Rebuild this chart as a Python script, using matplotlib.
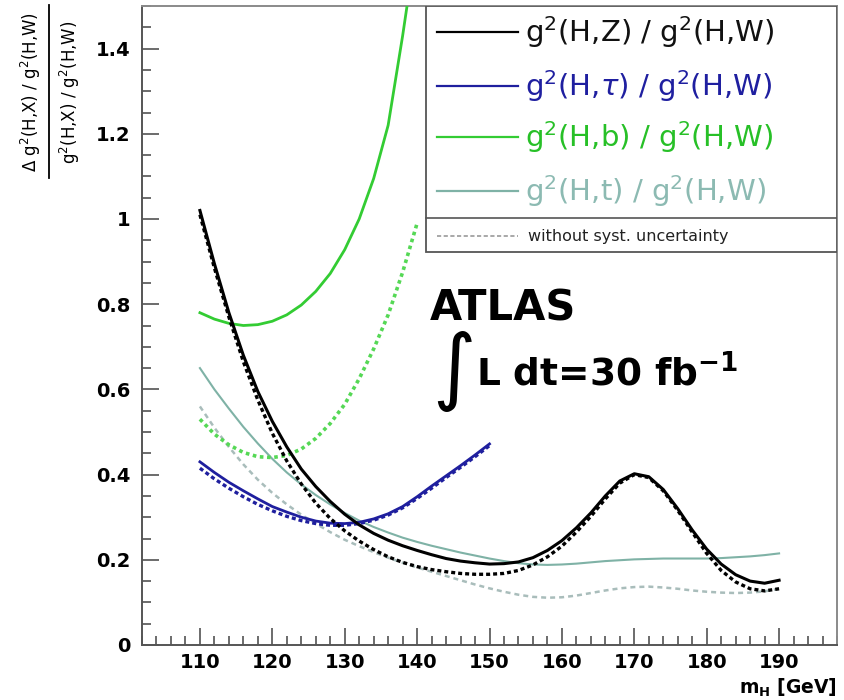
import matplotlib
matplotlib.use('Agg')
import matplotlib.pyplot as plt
from matplotlib.ticker import MultipleLocator, FuncFormatter
from matplotlib.patches import Rectangle
from matplotlib.lines import Line2D

plt.rcParams['font.family'] = ['DejaVu Sans']
plt.rcParams['mathtext.fontset'] = 'dejavusans'

# ---------------- data ----------------
mh_full = [110, 112, 114, 116, 118, 120, 122, 124, 126, 128, 130, 132, 134, 136, 138, 140,
           142, 144, 146, 148, 150, 152, 154, 156, 158, 160, 162, 164, 166, 168, 170,
           172, 174, 176, 178, 180, 182, 184, 186, 188, 190]
mh_150 = [110, 112, 114, 116, 118, 120, 122, 124, 126, 128, 130, 132, 134, 136, 138, 140,
          142, 144, 146, 148, 150]
mh_140 = [110, 112, 114, 116, 118, 120, 122, 124, 126, 128, 130, 132, 134, 136, 138, 140]

hz_syst = [1.02, 0.895, 0.78, 0.68, 0.595, 0.525, 0.465, 0.413, 0.372, 0.337, 0.307, 0.282,
           0.262, 0.246, 0.233, 0.222, 0.212, 0.203, 0.197, 0.193, 0.19, 0.191, 0.195, 0.205,
           0.222, 0.245, 0.275, 0.31, 0.35, 0.385, 0.402, 0.395, 0.365, 0.32, 0.27, 0.225,
           0.19, 0.165, 0.15, 0.145, 0.152]
hz_stat = [1.01, 0.885, 0.77, 0.665, 0.575, 0.497, 0.432, 0.378, 0.333, 0.297, 0.268, 0.244,
           0.224, 0.207, 0.194, 0.184, 0.177, 0.172, 0.168, 0.166, 0.166, 0.168, 0.175, 0.188,
           0.207, 0.232, 0.265, 0.302, 0.343, 0.38, 0.40, 0.393, 0.362, 0.316, 0.265, 0.215,
           0.175, 0.148, 0.132, 0.127, 0.132]

htau_syst = [0.43, 0.405, 0.382, 0.362, 0.343, 0.325, 0.312, 0.300, 0.291, 0.286, 0.285,
             0.288, 0.296, 0.308, 0.325, 0.348, 0.373, 0.397, 0.421, 0.446, 0.472]
htau_stat = [0.415, 0.39, 0.368, 0.348, 0.330, 0.315, 0.302, 0.292, 0.285, 0.281, 0.281,
             0.285, 0.293, 0.305, 0.322, 0.344, 0.368, 0.393, 0.417, 0.442, 0.468]

hb_syst = [0.78, 0.765, 0.755, 0.75, 0.752, 0.76, 0.775, 0.798, 0.83, 0.872, 0.928, 1.0,
           1.095, 1.22, 1.43, 1.66]
hb_stat = [0.53, 0.495, 0.47, 0.452, 0.442, 0.44, 0.445, 0.46, 0.485, 0.52, 0.565, 0.625,
           0.695, 0.775, 0.875, 0.99]

ht_syst = [0.65, 0.6, 0.555, 0.512, 0.473, 0.437, 0.405, 0.377, 0.352, 0.33, 0.31, 0.292,
           0.277, 0.264, 0.252, 0.242, 0.233, 0.225, 0.217, 0.21, 0.203, 0.197, 0.192, 0.189,
           0.188, 0.189, 0.191, 0.194, 0.197, 0.199, 0.201, 0.202, 0.203, 0.203, 0.203, 0.203,
           0.204, 0.206, 0.208, 0.211, 0.215]
ht_stat = [0.56, 0.51, 0.465, 0.424, 0.388, 0.357, 0.33, 0.306, 0.285, 0.265, 0.247, 0.232,
           0.218, 0.205, 0.193, 0.182, 0.172, 0.162, 0.152, 0.142, 0.133, 0.125, 0.118, 0.113,
           0.111, 0.112, 0.116, 0.122, 0.128, 0.133, 0.136, 0.137, 0.135, 0.132, 0.128, 0.125,
           0.123, 0.122, 0.123, 0.126, 0.132]

legend_labels = [r'g$^2$(H,Z) / g$^2$(H,W)', r'g$^2$(H,$\tau$) / g$^2$(H,W)',
                 r'g$^2$(H,b) / g$^2$(H,W)', r'g$^2$(H,t) / g$^2$(H,W)']
legend_extra = 'without syst. uncertainty'

# ---------------- styles ----------------
c_black = '#000000'
c_blue = '#1f1f9e'
c_green = '#33cc33'
c_green_d = '#55d855'
c_teal = '#7fb2a6'
c_teal_d = '#a9bdbb'
leg_text_colors = ['#111111', '#1f1fa0', '#27c027', '#8cbab2']

fig = plt.figure(figsize=(8.44, 7.0), dpi=100)
ax = fig.add_axes([142 / 844, 55 / 700, 695 / 844, 639 / 700])

# teal
ax.plot(mh_full, ht_stat, color=c_teal_d, lw=1.8, ls=(0, (2.0, 1.6)), zorder=2)
ax.plot(mh_full, ht_syst, color=c_teal, lw=1.5, zorder=2)
# green
ax.plot(mh_140, hb_stat, color=c_green_d, lw=2.6, ls=(0, (1.0, 1.0)), zorder=3)
ax.plot(mh_140, hb_syst, color=c_green, lw=2.0, zorder=3)
# blue
ax.plot(mh_150, htau_stat, color=c_blue, lw=2.4, ls=(0, (1.2, 0.9)), zorder=4)
ax.plot(mh_150, htau_syst, color=c_blue, lw=2.0, zorder=4)
# black
ax.plot(mh_full, hz_stat, color=c_black, lw=2.4, ls=(0, (1.2, 0.9)), zorder=5)
ax.plot(mh_full, hz_syst, color=c_black, lw=2.2, zorder=5)

ax.set_xlim(102, 198)
ax.set_ylim(0, 1.5)

ax.xaxis.set_major_locator(MultipleLocator(10))
ax.xaxis.set_minor_locator(MultipleLocator(2))
ax.yaxis.set_major_locator(MultipleLocator(0.2))
ax.yaxis.set_minor_locator(MultipleLocator(0.05))
ax.yaxis.set_major_formatter(FuncFormatter(lambda v, p: f'{v:g}'))

ax.tick_params(which='both', direction='in', colors='#444444', width=1.1,
               top=False, right=False)
ax.tick_params(which='major', length=12, pad=8, labelsize=14, labelcolor='black')
ax.tick_params(axis='x', which='major', pad=6)
ax.tick_params(which='minor', length=6.5)
for lab in ax.get_xticklabels() + ax.get_yticklabels():
    lab.set_fontweight('bold')

for side in ['left', 'bottom']:
    ax.spines[side].set_color('#555555')
    ax.spines[side].set_linewidth(1.4)
for side in ['top', 'right']:
    ax.spines[side].set_color('#8a8a8a')
    ax.spines[side].set_linewidth(1.4)

# ---------------- legend box (manual) ----------------
bx0, by0 = 0.4086, 0.615
ax.add_patch(Rectangle((bx0, by0), 1 - bx0, 1 - by0, transform=ax.transAxes,
                       facecolor='white', edgecolor='#555555', lw=1.3, zorder=10))
ax.add_line(Line2D([bx0, 1.0], [0.668, 0.668], transform=ax.transAxes,
                   color='#555555', lw=1.2, zorder=11))
entry_y = [0.959, 0.875, 0.795, 0.710]
sample_colors = [c_black, c_blue, c_green, c_teal]
for yy, lab, col, tcol in zip(entry_y, legend_labels, sample_colors, leg_text_colors):
    ax.add_line(Line2D([0.4245, 0.541], [yy, yy], transform=ax.transAxes,
                       color=col, lw=1.6, zorder=11))
    ax.text(0.551, yy, lab, transform=ax.transAxes, fontsize=21, color=tcol,
            va='center', ha='left', zorder=12)
ax.add_line(Line2D([0.4245, 0.541], [0.640, 0.640], transform=ax.transAxes,
                   color='#999999', lw=1.2, ls=(0, (2.5, 1.5)), zorder=11))
ax.text(0.555, 0.640, legend_extra, transform=ax.transAxes, fontsize=11.5,
        color='#222222', va='center', ha='left', zorder=12)

# ---------------- ATLAS label ----------------
ax.text(0.414, 0.526, 'ATLAS', transform=ax.transAxes, fontsize=30,
        fontweight='bold', va='center', ha='left')
ax.text(0.418, 0.428, '\u222b', transform=ax.transAxes, fontsize=60,
        va='center', ha='left')
ax.text(0.480, 0.425, r'L dt=30 fb$^{\mathbf{-1}}$', transform=ax.transAxes,
        fontsize=27, fontweight='bold', va='center', ha='left')

# ---------------- axis titles ----------------
fig.text(837 / 844, 1 / 700, r'm$_{\mathbf{H}}$ [GeV]', fontsize=13.5,
         fontweight='bold', ha='right', va='bottom')
fig.text(31 / 844, 1 - 92 / 700, r'$\Delta$ g$^2$(H,X) / g$^2$(H,W)', rotation=90,
         fontsize=12, ha='center', va='center')
fig.text(70 / 844, 1 - 92 / 700, r'g$^2$(H,X) / g$^2$(H,W)', rotation=90,
         fontsize=12, ha='center', va='center')
fig.add_artist(Line2D([49 / 844, 49 / 844], [1 - 178 / 700, 1 - 5 / 700],
                      transform=fig.transFigure, color='black', lw=1.3))

fig.savefig('out.png', dpi=100, facecolor='white')
